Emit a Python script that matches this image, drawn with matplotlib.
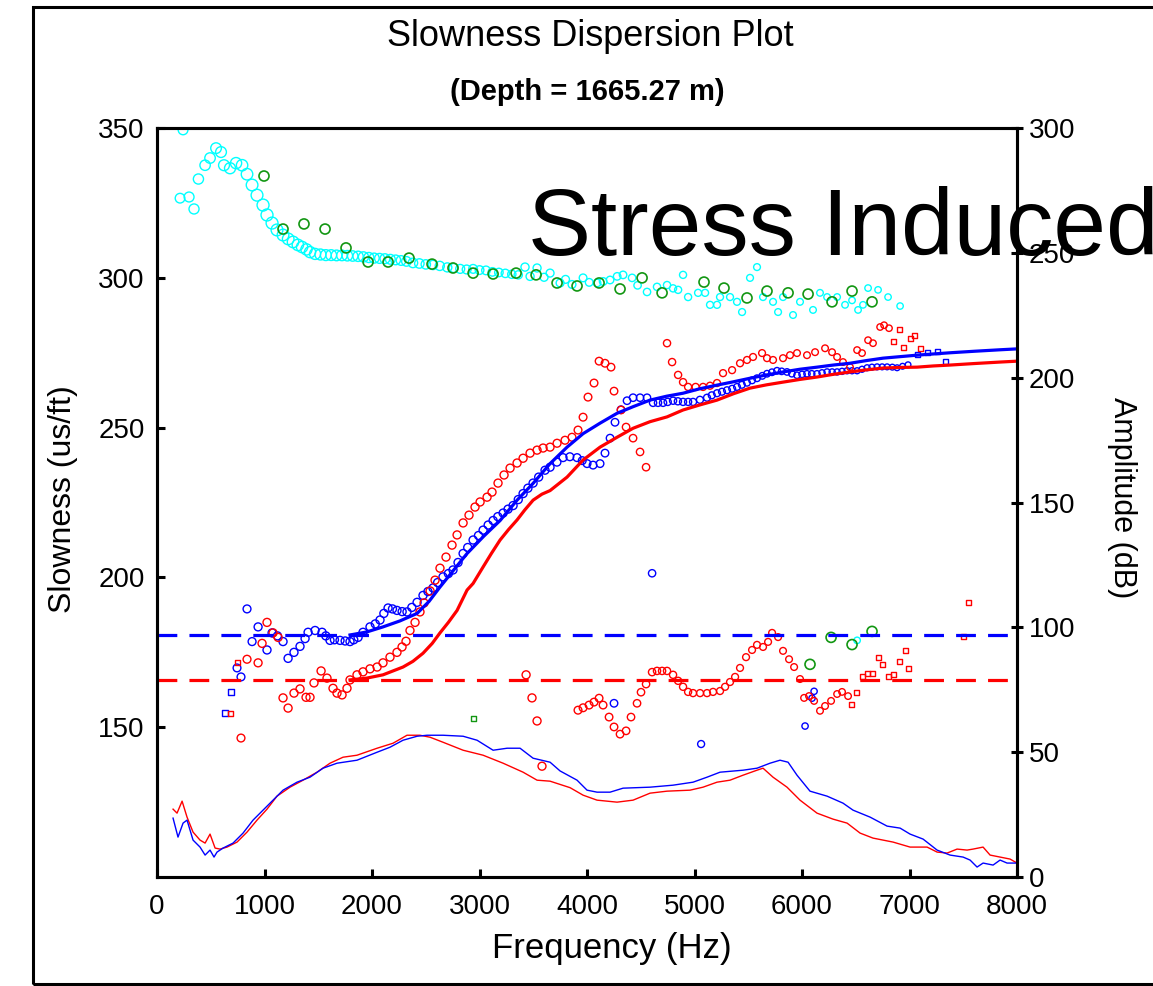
import numpy as np
import matplotlib
matplotlib.use("Agg")
import matplotlib.pyplot as plt
from matplotlib.patches import Rectangle

plt.rcParams['font.family'] = ['Liberation Sans', 'DejaVu Sans']

# ---- dispersion picks: slowness (us/ft) vs frequency (Hz) ----
cyan_f = [214, 242, 298, 344, 385, 447, 493, 549, 595, 623, 679, 735, 791, 837, 884, 930, 986,
          1023, 1070, 1116, 1172, 1220, 1265, 1310, 1349, 1390, 1423, 1470, 1520, 1570, 1620, 1670,
          1720, 1770, 1820, 1870, 1920, 1970, 2020, 2070, 2120, 2170, 2220, 2270, 2320, 2380, 2440,
          2500, 2567, 2630, 2700, 2760, 2820, 2880, 2940, 3000, 3060, 3120, 3180, 3240, 3300, 3360,
          3423, 3470, 3535, 3600, 3656, 3749, 3800, 3860, 3963, 4020, 4093, 4150, 4214, 4280, 4335,
          4419, 4470, 4558, 4651, 4744, 4800, 4847, 4893, 4940, 5033, 5098, 5144, 5209, 5237, 5330,
          5395, 5442, 5516, 5581, 5637, 5730, 5777, 5823, 5916, 5981, 6102, 6167, 6233, 6326, 6400,
          6465, 6521, 6567, 6614, 6707, 6800, 6912, 6512]
cyan_s = [326.6, 349.4, 327, 323, 333, 337.6, 340, 343.3, 342, 337.6, 336.6, 338.3, 337.6, 334.6,
          331, 327.6, 324.3, 321, 318.3, 316, 314.3, 313, 312, 311, 310.3, 309.5, 308.6, 308, 307.8,
          307.6, 307.6, 307.5, 307.5, 307.4, 307.3, 307.2, 307, 306.8, 306.6, 306.5, 306.4, 306.2,
          306, 305.8, 305.5, 305, 304.8, 304.5, 304.3, 304, 303.5, 303.3, 303, 302.8, 303, 302.6,
          302.5, 302, 301.8, 301.5, 301.2, 301, 303.6, 300.5, 303.3, 300.2, 301.6, 298.3, 299.5,
          297.8, 300, 298.5, 298.3, 298.8, 299.3, 300.5, 301, 300, 297.5, 295.3, 297, 297.6, 296.5,
          296, 301, 293.6, 295, 295, 291, 291, 293.6, 293.6, 292, 288.6, 300, 303.6, 293.6, 292,
          288.6, 293.6, 287.6, 292, 289.3, 295, 293.6, 293.6, 291, 292.5, 289.3, 291, 296.6, 296,
          293.6, 290.6, 179]

green_f = [995, 1172, 1367, 1563, 1758, 1963, 2149, 2344, 2558, 2753, 2940, 3126, 3340, 3526,
           3721, 3907, 4112, 4307, 4512, 4698, 5088, 5274, 5488, 5674, 5870, 6056, 6279, 6465,
           6651, 6074, 6270, 6465, 6651]
green_s = [334, 316.3, 318, 316.3, 310, 305.3, 305.3, 306.6, 304.6, 303.3, 301.6, 301.3, 301.6,
           301, 298.3, 297.3, 298.3, 296.3, 300, 295, 298.6, 296.6, 293.3, 295.6, 295, 294.6, 292,
           295.6, 292, 171, 180, 177.6, 182]
green_sq_f = [2940]
green_sq_s = [153]

blue_f = [744, 781, 837, 884, 940, 1023, 1070, 1120, 1172, 1219, 1274, 1330, 1377, 1405, 1470,
          1535, 1570, 1609, 1650, 1702, 1750, 1795, 1830, 1870, 1916, 1981, 2030, 2074, 2110, 2149,
          2190, 2232, 2280, 2325, 2370, 2419, 2474, 2520, 2567, 2610, 2660, 2710, 2753, 2800, 2847,
          2890, 2940, 2990, 3033, 3080, 3126, 3170, 3219, 3265, 3312, 3360, 3405, 3450, 3498, 3550,
          3609, 3656, 3720, 3777, 3840, 3907, 3955, 4000, 4056, 4121, 4167, 4214, 4260, 4316, 4372,
          4428, 4493, 4558, 4614, 4660, 4707, 4750, 4800, 4845, 4893, 4940, 4986, 5050, 5116, 5160,
          5209, 5255, 5302, 5350, 5395, 5440, 5488, 5535, 5581, 5630, 5674, 5720, 5767, 5810, 5860,
          5905, 5953, 6000, 6046, 6090, 6139, 6186, 6233, 6280, 6326, 6372, 6419, 6465, 6512, 6558,
          6605, 6650, 6698, 6745, 6791, 6840, 6884, 6935, 6986,
          4251, 4605, 5061, 6028, 6093, 6112]
blue_s = [169.8, 166.8, 189.5, 178.6, 183.5, 175.8, 181.5, 180.5, 178.6, 173, 175, 177, 179.6,
          181.7, 182.3, 181.7, 180.5, 179, 179.2, 179, 178.8, 178.6, 179.2, 180, 181.7, 183.5,
          184.5, 185.8, 188, 189.8, 189.5, 189, 188.6, 188.5, 190, 191.7, 194, 195.3, 196.5, 198.3,
          200.2, 201.3, 202.5, 205, 208, 210, 212.5, 214, 215.8, 217.5, 219, 220.3, 221.5, 222.8,
          224, 226, 228, 229.8, 231.5, 233.5, 235.8, 236.8, 238.5, 240, 240.3, 240, 239, 238, 237.5,
          238, 241.5, 246.5, 251.8, 256, 259, 260, 260, 260, 258.3, 258.3, 258.3, 258.6, 259, 258.8,
          258.6, 258.6, 258.6, 259.3, 260, 260.8, 261.5, 262, 262.5, 263, 263.6, 264.3, 265, 265.8,
          266.5, 267.3, 268, 268.5, 269, 268.8, 268.6, 268, 267.5, 267.8, 268, 268, 268, 268.3,
          268.6, 268.6, 268.6, 268.8, 269, 269, 269, 269.5, 270, 270.2, 270.3, 270.3, 270.3, 270.2,
          270, 270.5, 271,
          158, 201.4, 144.4, 150.4, 159.7, 162]
blue_sq_f = [633, 688, 7070, 7163, 7256, 7330]
blue_sq_s = [154.7, 161.7, 274.3, 275, 275.3, 272]

red_f = [781, 837, 940, 977, 1023, 1079, 1126, 1172, 1219, 1274, 1330, 1386, 1423, 1460, 1526,
         1581, 1637, 1674, 1721, 1767, 1795, 1860, 1916, 1981, 2047, 2102, 2167, 2232, 2279, 2316,
         2353, 2400, 2446, 2484, 2540, 2586, 2632, 2688, 2744, 2791, 2847, 2902, 2958, 3005, 3070,
         3116, 3172, 3228, 3284, 3349, 3405, 3470, 3535, 3591, 3656, 3721, 3795, 3860, 3916, 3963,
         4009, 4065, 4112, 4167, 4223, 4251, 4316, 4363, 4428, 4493, 4549, 4744, 4791, 4847, 4893,
         4940, 5010, 5079, 5144, 5209, 5265, 5349, 5423, 5488, 5544, 5628, 5674, 5730, 5823, 5888,
         5953, 6046, 6121, 6214, 6279, 6326, 6381, 6446, 6512, 6558, 6614, 6660, 6726, 6763, 6809]
red_s = [146.4, 172.7, 171.5, 178, 185, 181.5, 180, 159.8, 156.4, 161.4, 162.8, 160, 160, 164.8,
         168.8, 166.4, 163, 161.4, 160.8, 163, 165.8, 167.5, 168.5, 169.5, 170.1, 171.5, 173.4,
         175, 176.8, 178.7, 182.3, 185, 188.5, 191.5, 195.5, 199.1, 203.1, 206.8, 210.8, 214.2,
         218.2, 220.8, 223.5, 225.2, 226.8, 228.5, 231.5, 234.2, 236.5, 238.2, 239.8, 241.5, 242.5,
         243.2, 243.5, 244.8, 245.8, 246.8, 249.2, 253.5, 260.2, 264.9, 272.2, 271.5, 270.2, 262.2,
         255.9, 250.2, 246.5, 241.9, 236.8, 278.2, 271.9, 267.6, 265.2, 263.6, 263.6, 263.6, 264,
         264.9, 268.2, 269.2, 271.5, 272.6, 273.6, 274.9, 273.2, 272.6, 273.2, 274.2, 274.9, 274.2,
         275.2, 276.5, 275.2, 273.6, 271.9, 270.2, 275.9, 274.9, 279.2, 278.2, 283.6, 284.2, 283.2]

red_low_f = [3433, 3488, 3535, 3581, 3916, 3963, 4019, 4065, 4112, 4149, 4205, 4251, 4307, 4363,
             4409, 4465, 4502, 4549, 4605, 4651, 4698, 4744, 4800, 4847, 4893, 4940, 4986, 5051,
             5116, 5172, 5237, 5284, 5330, 5377, 5423, 5479, 5535, 5581, 5637, 5684, 5721, 5777,
             5823, 5879, 5926, 5981, 6019, 6065, 6112, 6167, 6214, 6270, 6326, 6372, 6428]
red_low_s = [167.5, 159.8, 152.1, 137, 155.7, 156.5, 157.4, 158.4, 159.7, 157.4, 153.4, 150.1,
             147.7, 148.8, 153.4, 158, 161.7, 164.4, 168.4, 168.8, 168.8, 168.8, 167.5, 165.5,
             163.5, 161.8, 161.4, 161.4, 161.4, 161.8, 162.1, 163.5, 165.1, 166.8, 169.8, 173.4,
             175.8, 177.5, 176.8, 178.5, 181.5, 180.1, 175.5, 172.7, 170.1, 166.1, 159.8, 160.4,
             158.8, 155.5, 157.1, 158.8, 161.1, 161.8, 160.4]

red_sq_f = [679, 744, 6456, 6502, 6558, 6605, 6651, 6707, 6744, 6800, 6847, 6902, 6958, 6986,
            7498, 7544, 6847, 6902, 6940, 7005, 7042, 7098]
red_sq_s = [154.7, 171.5, 157.7, 161.7, 166.8, 168.1, 168.1, 173.4, 171.1, 166.8, 167.5, 172.1,
            175.6, 169.5, 180.4, 191.5, 278.9, 282.9, 276.9, 279.6, 280.6, 276.5]

# ---- model dispersion curves ----
blue_model_f = [1795, 1950, 2102, 2260, 2419, 2530, 2632, 2760, 2884, 3040, 3191, 3349, 3498,
                3656, 3814, 3963, 4121, 4279, 4428, 4586, 4740, 4893, 5050, 5209, 5360, 5516,
                5670, 5823, 5980, 6139, 6290, 6446, 6600, 6753, 6910, 7070, 7220, 7377, 7600,
                7842, 8000]
blue_model_s = [180.8, 181.8, 183.5, 185.5, 188, 192, 196.8, 202.5, 208, 213.8, 219, 225.8, 231.4,
                238, 243.5, 248, 251.5, 254.8, 257, 259.2, 260.5, 261.5, 263, 264.2, 265.3, 266.5,
                267.6, 268.6, 269.5, 270.2, 270.9, 271.5, 272.4, 273.2, 273.7, 274.2, 274.6, 275,
                275.5, 276, 276.3]
red_model_f = [1795, 1950, 2102, 2288, 2380, 2474, 2560, 2632, 2710, 2791, 2884, 2940, 3033, 3110,
               3191, 3270, 3349, 3420, 3498, 3580, 3656, 3814, 3963, 4121, 4279, 4428, 4586, 4744,
               4893, 5050, 5209, 5360, 5516, 5670, 5823, 5980, 6139, 6290, 6446, 6600, 6753, 6910,
               7070, 7220, 7377, 7600, 7842, 8000]
red_model_s = [165.8, 166.4, 167.5, 170.1, 172, 174.7, 178, 181.5, 185, 189, 195.8, 198, 203.5,
               208, 212.5, 216, 219.2, 222.5, 225.8, 227.8, 229, 233.5, 239.2, 243.5, 246.8, 249.8,
               252, 253.6, 255.9, 257.6, 259.2, 261.3, 263.2, 264.3, 265.2, 266.1, 266.9, 267.8,
               268.6, 269.3, 269.9, 270.1, 270.2, 270.6, 270.9, 271.4, 271.9, 272.2]

shear_fast = 180.8
shear_slow = 165.8

# ---- amplitude spectra (dB), right axis ----
amp_blue_f = [149, 195, 242, 279, 335, 400, 447, 493, 530, 558, 614, 707, 800, 893, 986, 1079,
              1172, 1302, 1423, 1544, 1674, 1860, 2047, 2167, 2288, 2419, 2512, 2660, 2847, 2977,
              3126, 3256, 3377, 3498, 3656, 3749, 3907, 4000, 4093, 4214, 4335, 4586, 4800, 4986,
              5116, 5237, 5451, 5581, 5702, 5795, 5870, 5953, 6074, 6233, 6381, 6474, 6633, 6791,
              6912, 7005, 7126, 7256, 7377, 7498, 7563, 7628, 7684, 7777, 7842, 7907, 8000]
amp_blue = [23.6, 16, 21.6, 22.8, 14.8, 12, 8.8, 10.8, 8, 10, 11.6, 13.6, 17.6, 22.8, 26.8, 30.8,
            34.8, 38, 40, 43.6, 45.6, 46.8, 50, 52, 54.8, 56.4, 56.8, 56.8, 56.4, 54.8, 50.8, 51.6,
            51.6, 47.6, 46, 42.5, 38.8, 34.8, 34, 34, 35.6, 36, 36.8, 38, 40, 42, 42.8, 43.6, 45.6,
            46.8, 46, 40.8, 34.4, 32.4, 29.6, 26.8, 24, 20.4, 19.6, 17.2, 15.2, 10.8, 8.8, 8, 6.8,
            4, 5.6, 4.8, 6.8, 5.6, 5.6]
amp_red_f = [149, 186, 233, 279, 335, 400, 447, 493, 540, 586, 651, 744, 837, 930, 1023, 1116,
             1237, 1358, 1488, 1609, 1730, 1860, 2047, 2195, 2325, 2446, 2540, 2660, 2847, 3033,
             3219, 3405, 3535, 3656, 3842, 3963, 4093, 4279, 4428, 4586, 4744, 4958, 5079, 5209,
             5330, 5451, 5581, 5637, 5730, 5860, 5981, 6139, 6288, 6419, 6540, 6660, 6847, 7005,
             7163, 7256, 7349, 7442, 7535, 7591, 7684, 7749, 7842, 7935, 8000]
amp_red = [27.2, 25.6, 30.4, 24, 18, 14.8, 13.6, 17.2, 11.6, 11.2, 12, 14, 18, 22.8, 27.2, 32.4,
           36, 38.8, 42, 45.6, 48, 48.8, 51.6, 53.6, 56.8, 56.8, 56, 54, 50.8, 48.8, 45.6, 42,
           38.8, 38.4, 35.8, 32.8, 30.8, 30, 30.8, 33.6, 34.4, 34.8, 36, 38, 38.8, 40.8, 42.8,
           43.6, 40, 36, 30.8, 25.6, 23.2, 21.6, 17.6, 15.6, 14, 12, 12, 10, 9.6, 11.2, 10.8, 11.2,
           12, 8.8, 8, 7.2, 5.6]

depth_m = 1665.27

RED, BLUE, CYAN, GREEN = '#ff0000', '#0000ff', '#00ffff', '#129612'


def px_size(f, knots, diam_px):
    # marker diameter in pixels shrinks toward high frequency -> scatter area in pt^2
    d = np.interp(np.asarray(f, float), knots, diam_px) * 0.72
    return d ** 2


def rings(ax, f, s, color, knots, diam, marker='o', lw=1.0, z=3):
    ax.scatter(f, s, s=px_size(f, knots, diam), marker=marker, facecolors='none',
               edgecolors=color, linewidths=lw, zorder=z)


fig = plt.figure(figsize=(11.53, 9.86), dpi=100)
ax = fig.add_axes([0.1362, 0.1105, 0.7459, 0.7596])
ax2 = ax.twinx()

kn = [0, 1000, 2000, 3500, 5000, 8000]
rings(ax, cyan_f, cyan_s, CYAN, kn, [9, 12, 10, 8, 7, 6])
rings(ax, green_f, green_s, GREEN, kn, [10, 10, 10, 10, 10, 10], lw=1.2, z=4)
rings(ax, green_sq_f, green_sq_s, GREEN, kn, [5] * 6, marker='s')
rings(ax, blue_f, blue_s, BLUE, kn, [7, 8, 8, 8, 7, 5])
rings(ax, blue_sq_f, blue_sq_s, BLUE, kn, [6, 6, 6, 5, 5, 5], marker='s')
rings(ax, red_f, red_s, RED, kn, [7, 8, 8, 8, 7, 6])
rings(ax, red_low_f, red_low_s, RED, kn, [8, 8, 8, 8, 7, 6])
rings(ax, red_sq_f, red_sq_s, RED, kn, [5, 5, 5, 5, 5, 5], marker='s')

ax.plot(blue_model_f, blue_model_s, color=BLUE, lw=2.3, zorder=5)
ax.plot(red_model_f, red_model_s, color=RED, lw=2.3, zorder=5)
ax.axhline(shear_fast, color=BLUE, lw=2.3, dashes=(6.2, 3.8), zorder=5)
ax.axhline(shear_slow, color=RED, lw=2.3, dashes=(6.2, 3.8), zorder=5)

ax2.plot(amp_red_f, amp_red, color=RED, lw=1.0)
ax2.plot(amp_blue_f, amp_blue, color=BLUE, lw=1.0)

ax.set_xlim(0, 8000)
ax.set_ylim(100, 350)
ax2.set_ylim(0, 300)
ax.set_xticks(np.arange(0, 8001, 1000))
ax.set_yticks([150, 200, 250, 300, 350])
ax2.set_yticks(np.arange(0, 301, 50))

for a in (ax, ax2):
    for sp in a.spines.values():
        sp.set_linewidth(2.2)
ax.tick_params(axis='both', direction='in', length=6, width=2.2, labelsize=20, pad=9)
ax.tick_params(axis='x', pad=12)
ax2.tick_params(axis='y', direction='inout', length=9, width=2.2, labelsize=20, pad=4)

ax.set_xlabel('Frequency (Hz)', fontsize=25)
ax.set_ylabel('Slowness (us/ft)', fontsize=23)
ax2.set_ylabel('Amplitude (dB)', fontsize=22, rotation=270, va='center')
ax.xaxis.set_label_coords(0.529, -0.073)
ax.yaxis.set_label_coords(-0.092, 0.505)
ax2.yaxis.set_label_coords(1.122, 0.506)

fig.text(0.512, 0.9625, 'Slowness Dispersion Plot', fontsize=26, ha='center', va='center')
fig.text(0.509, 0.907, f'(Depth = {depth_m:.2f} m)', fontsize=21, fontweight='bold',
         ha='center', va='center')
fig.text(0.458, 0.7414, 'Stress Induced', fontsize=68, ha='left', va='baseline', zorder=20)

# outer frame around the plot page
fig.patches.append(Rectangle((33 / 1153, 0.002), 1.2, 0.9909, transform=fig.transFigure,
                             fill=False, lw=2.2, ec='black'))

fig.savefig('out.png', dpi=100, facecolor='white')
